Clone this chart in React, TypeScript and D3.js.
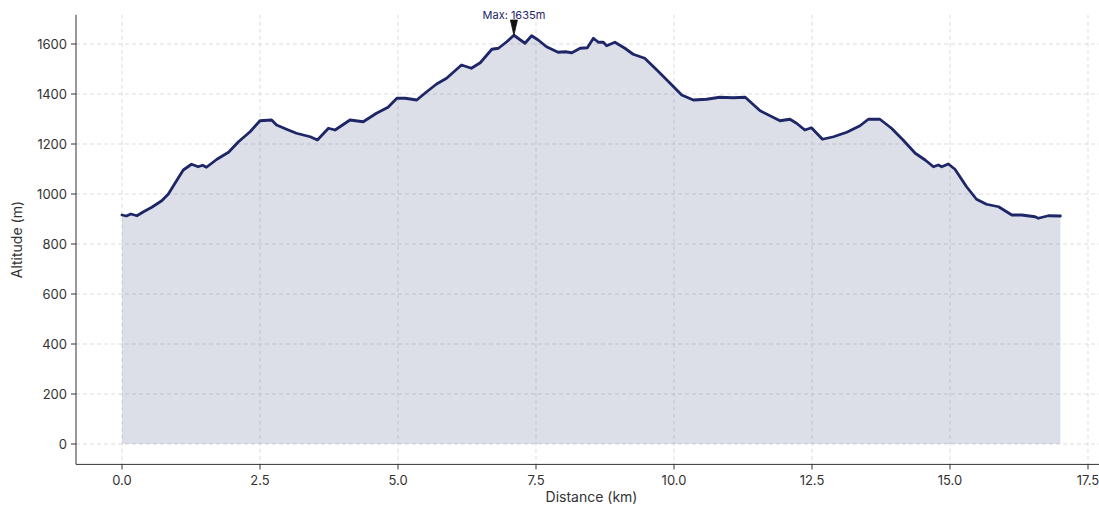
import React from "react";
import * as d3 from "d3";

const distanceKm: number[] = [
  0.0, 0.08, 0.16, 0.27, 0.39, 0.54, 0.72, 0.84, 0.96, 1.11, 1.26, 1.38, 1.46, 1.53, 1.72, 1.93,
  2.11, 2.32, 2.5, 2.71, 2.8, 2.98, 3.16, 3.41, 3.54, 3.74, 3.86, 4.13, 4.37, 4.61, 4.82, 4.98,
  5.13, 5.34, 5.52, 5.7, 5.88, 6.15, 6.33, 6.49, 6.7, 6.82, 6.97, 7.1, 7.3, 7.42, 7.54, 7.69,
  7.9, 8.03, 8.15, 8.3, 8.43, 8.54, 8.63, 8.72, 8.78, 8.93, 9.11, 9.26, 9.47, 9.69, 9.93, 10.14,
  10.35, 10.59, 10.83, 11.07, 11.29, 11.38, 11.56, 11.92, 12.1, 12.22, 12.37, 12.49, 12.69, 12.89,
  13.13, 13.37, 13.52, 13.73, 13.94, 14.15, 14.37, 14.55, 14.7, 14.79, 14.85, 14.97, 15.09, 15.3,
  15.48, 15.66, 15.88, 16.12, 16.3, 16.54, 16.6, 16.78, 17.0,
];

const altitudeM: number[] = [
  916, 912, 920, 913, 929, 947, 973, 1000, 1043, 1096, 1119, 1109, 1115, 1107, 1139, 1167,
  1209, 1249, 1293, 1296, 1276, 1259, 1243, 1229, 1216, 1263, 1256, 1296, 1289, 1323, 1347, 1383,
  1383, 1376, 1409, 1440, 1463, 1516, 1503, 1525, 1579, 1583, 1609, 1635, 1603, 1633, 1616, 1589,
  1567, 1569, 1565, 1583, 1585, 1623, 1607, 1607, 1593, 1607, 1583, 1559, 1543, 1496, 1443, 1396,
  1376, 1379, 1387, 1385, 1387, 1369, 1333, 1293, 1299, 1283, 1256, 1265, 1219, 1229,
  1247, 1273, 1299, 1299, 1263, 1216, 1163, 1136, 1109, 1116, 1109, 1120, 1099, 1029,
  979, 959, 949, 916, 916, 909, 903, 913, 912,
];

const xTicks: number[] = [0, 2.5, 5, 7.5, 10, 12.5, 15, 17.5];
const yTicks: number[] = [0, 200, 400, 600, 800, 1000, 1200, 1400, 1600];

const W = 1099;
const H = 506;
const FONT = "Inter, 'Noto Sans', sans-serif";
const NAVY = "#1e2668";

export default function App() {
  const points = distanceKm.map((d, i) => ({ d, a: altitudeM[i] }));
  const maxA = d3.max(altitudeM) as number;
  const maxPt = points.find((p) => p.a === maxA)!;

  const xMin = -0.85;
  const xMax = 17.85;
  const yMin = -81.75;
  const yMax = 1716.75;

  const left = 76;
  const bottom = 464.4;
  const x = d3.scaleLinear().domain([0, 17.5]).range([122, 1088]);
  const y = d3.scaleLinear().domain([0, 1600]).range([444, 44]);
  const top = y(yMax);
  const rightPx = x(xMax);

  const area = d3
    .area<{ d: number; a: number }>()
    .x((p) => x(p.d))
    .y0(y(0))
    .y1((p) => y(p.a));
  const line = d3
    .line<{ d: number; a: number }>()
    .x((p) => x(p.d))
    .y((p) => y(p.a));

  const mx = x(maxPt.d);
  const my = y(maxPt.a);

  return (
    <svg
      width={W}
      height={H}
      style={{ position: "absolute", left: 0, top: 0, background: "#fff" }}
      fontFamily={FONT}
    >
      {/* grid */}
      <g stroke="#d4d4d8" strokeWidth={0.8} strokeDasharray="4,3">
        {xTicks.map((t) => (
          <line key={"gx" + t} x1={x(t)} x2={x(t)} y1={top} y2={bottom} />
        ))}
        {yTicks.map((t) => (
          <line key={"gy" + t} x1={left} x2={rightPx} y1={y(t)} y2={y(t)} />
        ))}
      </g>

      {/* area + line */}
      <path d={area(points) || ""} fill={NAVY} fillOpacity={0.15} />
      <path
        d={line(points) || ""}
        fill="none"
        stroke={NAVY}
        strokeWidth={2.8}
        strokeLinejoin="round"
        strokeLinecap="round"
      />

      {/* spines */}
      <line x1={left} x2={left} y1={top} y2={bottom} stroke="#333" strokeWidth={1} />
      <line x1={left} x2={rightPx} y1={bottom} y2={bottom} stroke="#333" strokeWidth={1} />

      {/* y ticks */}
      {yTicks.map((t) => (
        <g key={"yt" + t}>
          <line x1={left - 5} x2={left} y1={y(t)} y2={y(t)} stroke="#333" strokeWidth={1} />
          <text
            x={left - 9}
            y={y(t)}
            textAnchor="end"
            dominantBaseline="central"
            fontSize={13}
            fill="#333"
          >
            {t}
          </text>
        </g>
      ))}

      {/* x ticks */}
      {xTicks.map((t) => (
        <g key={"xt" + t}>
          <line x1={x(t)} x2={x(t)} y1={bottom} y2={bottom + 5} stroke="#333" strokeWidth={1} />
          <text x={x(t)} y={bottom + 21} textAnchor="middle" fontSize={13} fill="#333">
            {t.toFixed(1)}
          </text>
        </g>
      ))}

      {/* axis labels */}
      <text x={(122 + 1061) / 2} y={502} textAnchor="middle" fontSize={14} fill="#333">
        Distance (km)
      </text>
      <text
        transform={`translate(22, ${(top + bottom) / 2}) rotate(-90)`}
        textAnchor="middle"
        fontSize={14}
        fill="#333"
      >
        Altitude (m)
      </text>

      {/* max annotation */}
      <text x={mx} y={19} textAnchor="middle" fontSize={11} fill={NAVY}>
        {`Max: ${maxA}m`}
      </text>
      <path
        d={`M${mx - 3.5},${20} L${mx + 3.5},${20} L${mx},${my} Z`}
        fill="#111"
        stroke="#111"
        strokeWidth={0.8}
      />
    </svg>
  );
}
